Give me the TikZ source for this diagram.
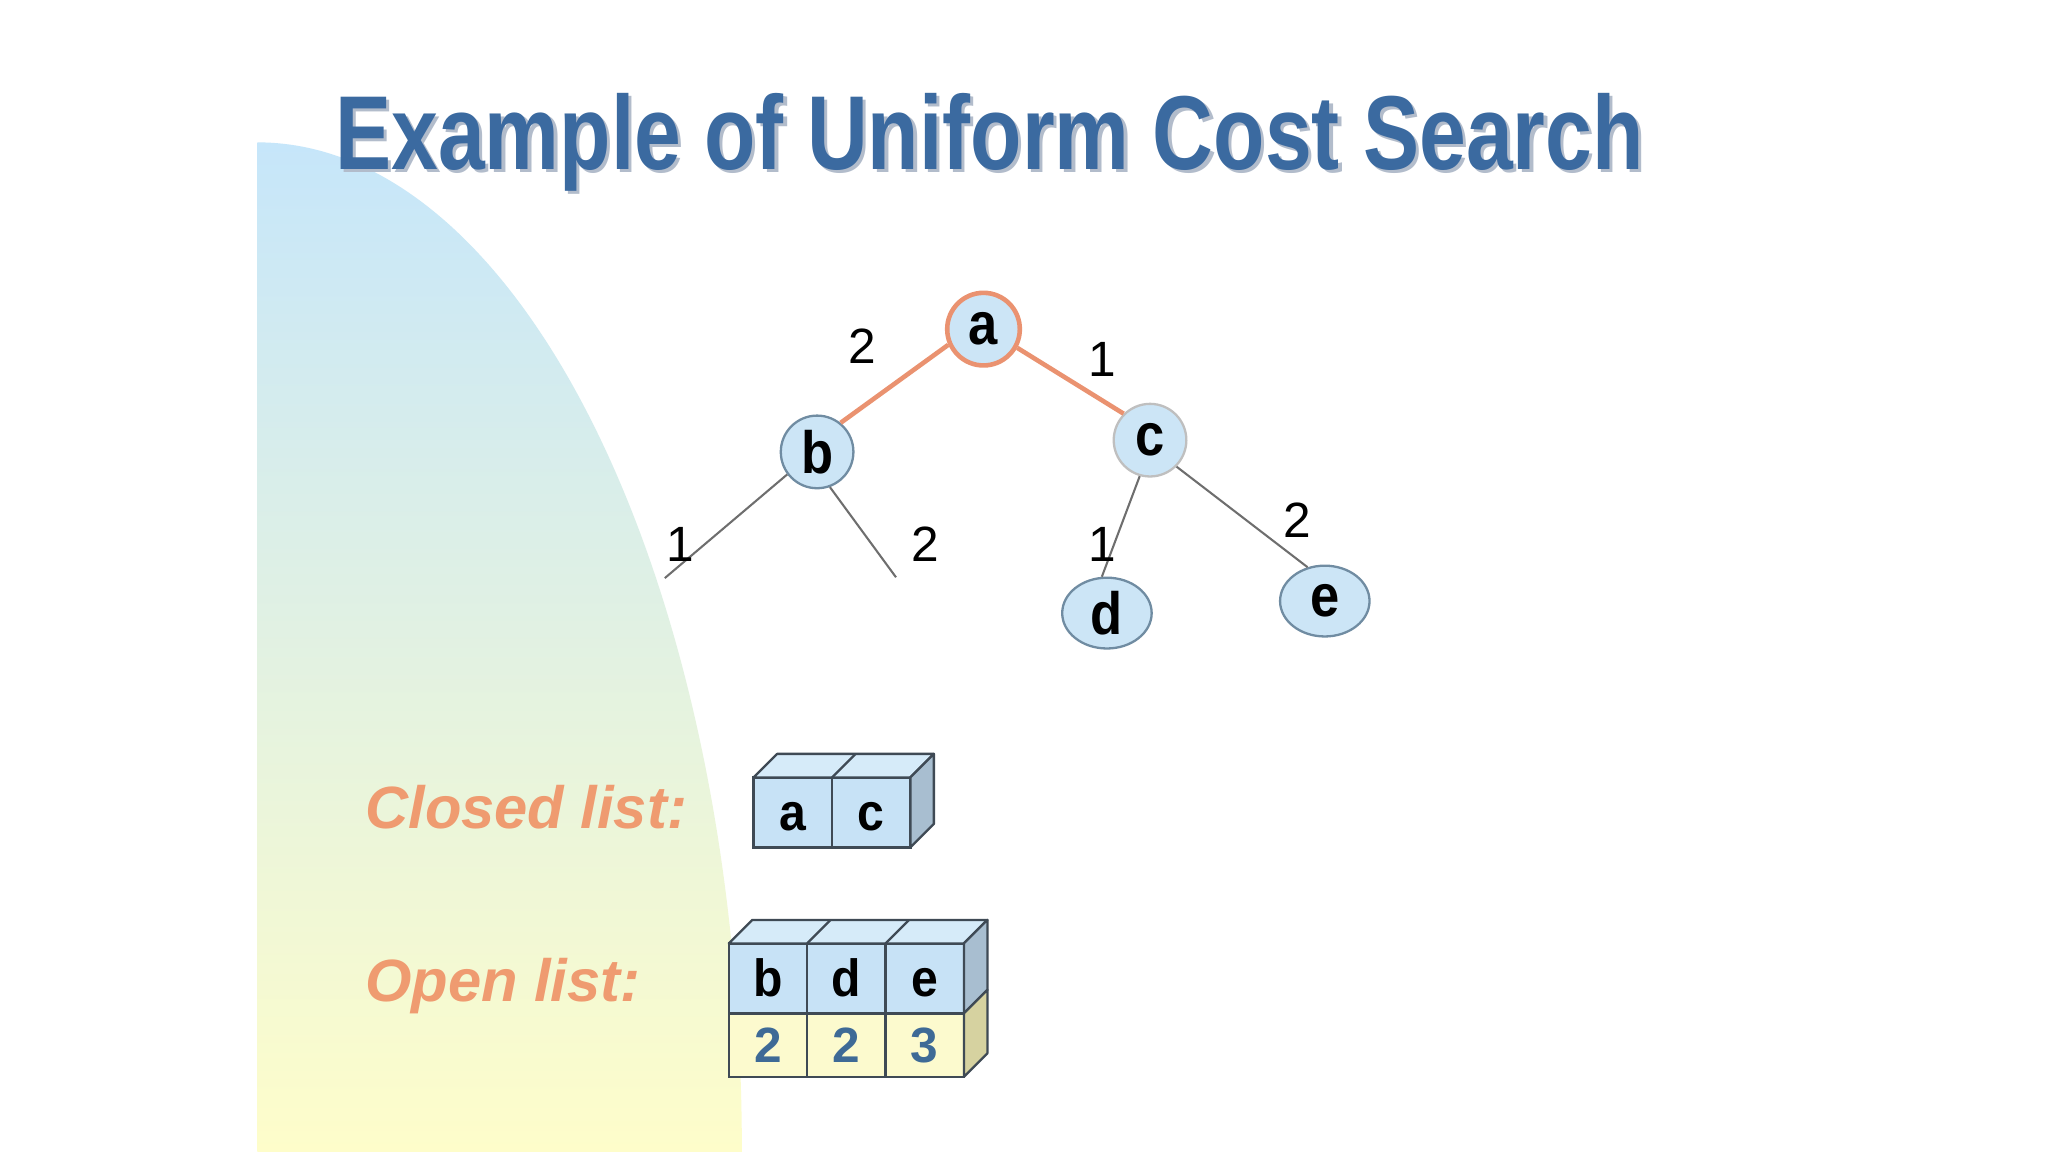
\documentclass[tikz,border=0pt]{standalone}
\usepackage{fontspec}
\setmainfont{Liberation Sans}
\newfontfamily\narrowfont{Liberation Sans}[FakeStretch=0.8]
\newfontfamily\vertexfont{Liberation Sans}[FakeStretch=0.88]
\newfontfamily\cellfont{Liberation Sans}[FakeStretch=0.92]
\usepackage{xcolor}
\usetikzlibrary{positioning,shapes.geometric}

\definecolor{titleblue}{RGB}{59,106,160}
\definecolor{shadowgray}{RGB}{178,188,203}
\definecolor{listorange}{RGB}{239,155,112}
\definecolor{vertexfill}{RGB}{204,229,246}
\definecolor{vertexline}{RGB}{112,140,162}
\definecolor{rootline}{RGB}{234,146,112}
\definecolor{edgegray}{RGB}{110,110,110}
\definecolor{cellblue}{RGB}{199,226,246}
\definecolor{topblue}{RGB}{214,235,249}
\definecolor{sideblue}{RGB}{168,190,208}
\definecolor{cellyellow}{RGB}{252,250,206}
\definecolor{sideyellow}{RGB}{214,210,160}
\definecolor{cellline}{RGB}{63,74,85}
\definecolor{costblue}{RGB}{62,106,150}
\definecolor{bgblue}{RGB}{198,230,250}
\definecolor{bgmid}{RGB}{221,239,236}
\definecolor{bgyellow}{RGB}{254,253,202}

\begin{document}
\begin{tikzpicture}[
  x=0.1mm, y=0.1mm,
  vertex/.style={draw=vertexline, fill=vertexfill, line width=0.5pt, circle, minimum size=5.56mm, inner sep=0pt, font=\vertexfont\bfseries\fontsize{13}{15}\selectfont},
  leaf/.style={vertex, ellipse, minimum width=6.85mm, minimum height=5.42mm},
  visited/.style={draw=rootline, line width=1pt},
  branch/.style={draw=edgegray, line width=0.45pt},
  weight/.style={inner sep=0pt, font=\fontsize{10.8}{12}\selectfont},
  listlabel/.style={anchor=base west, inner sep=0pt, text=listorange, font=\bfseries\itshape\fontsize{13}{15}\selectfont},
  cell/.style={draw=cellline, fill=cellblue, line width=0.5pt, outer sep=0pt, inner sep=0pt, minimum width=6mm, minimum height=5.36mm, text height=2.8mm, text depth=0mm, font=\cellfont\bfseries\fontsize{11.4}{13}\selectfont},
  cost/.style={cell, fill=cellyellow, minimum height=4.85mm, text height=, text depth=, text=costblue, font=\bfseries\fontsize{10.8}{12}\selectfont},
  topface/.style={draw=cellline, fill=topblue, line width=0.5pt, line join=round},
  sideface/.style={draw=cellline, fill=sideblue, line width=0.5pt, line join=round}
]
\useasboundingbox (0,0) rectangle (1568,882);
\fill[white] (0,0) rectangle (1568,882);
\shade[top color=bgblue, middle color=bgmid, bottom color=bgyellow] (197,0) -- (197,773) arc[start angle=90, end angle=0, x radius=371, y radius=773] -- cycle;

\node[anchor=base west, inner sep=0pt, text=shadowgray, font=\narrowfont\bfseries\fontsize{22.9}{26}\selectfont] (titleshadow) at (258.5,749.8) {Example of Uniform Cost Search};
\node[anchor=base west, inner sep=0pt, text=titleblue, font=\narrowfont\bfseries\fontsize{22.9}{26}\selectfont] (title) at (256,752.3) {Example of Uniform Cost Search};

\node[vertex, draw=rootline, line width=1pt] (a) at (753,630) {a};
\node[vertex] (b) at (625.6,536) {b};
\node[vertex, draw=black!25] (c) at (880.5,545) {c};
\node[leaf] (d) at (847.5,412.6) {d};
\node[leaf] (e) at (1014.3,421.8) {e};
\coordinate (bleft) at (509,439.4);
\coordinate (bright) at (686,440);

\draw[visited] (a.204) -- (b.51);
\draw[visited] (a.331) -- (c.135);
\draw[branch] (b.217) -- (bleft);
\draw[branch] (b.290) -- (bright);
\draw[branch] (c.254) -- (d.98);
\draw[branch] (c.315) -- (e.117);

\node[weight] (wab) at (660,617) {2};
\node[weight] (wac) at (844,607) {1};
\node[weight] (wbl) at (520.6,465) {1};
\node[weight] (wbr) at (708.4,465.2) {2};
\node[weight] (wcd) at (844,465) {1};
\node[weight] (wce) at (993,484) {2};

\node[listlabel] (closedlabel) at (279,247.5) {Closed list:};
\node[listlabel] (openlabel) at (279,115) {Open list:};

\node[cell] (closedA) at (607,260) {a};
\node[cell, right=0pt of closedA] (closedC) {c};
\draw[topface] (closedA.north west) -- ++(18,18) -- ([shift={(18,18)}]closedC.north east) -- (closedC.north east) -- cycle;
\draw[cellline, line width=0.5pt] (closedA.north east) -- ++(18,18);
\draw[sideface] (closedC.north east) -- ++(18,18) -- ++(0,-53.6) -- (closedC.south east) -- cycle;

\node[cell] (openB) at (588,132.9) {b};
\node[cell, right=0pt of openB] (openD) {d};
\node[cell, right=0pt of openD] (openE) {e};
\node[cost, below=0pt of openB] (costB) {2};
\node[cost, below=0pt of openD] (costD) {2};
\node[cost, below=0pt of openE] (costE) {3};
\draw[topface] (openB.north west) -- ++(18,18) -- ([shift={(18,18)}]openE.north east) -- (openE.north east) -- cycle;
\foreach \c in {openB,openD}
  \draw[cellline, line width=0.5pt] (\c.north east) -- ++(18,18);
\draw[sideface] (openE.north east) -- ++(18,18) -- ++(0,-53.6) -- (openE.south east) -- cycle;
\draw[sideface, fill=sideyellow] (costE.north east) -- ++(18,18) -- ++(0,-48.5) -- (costE.south east) -- cycle;
\end{tikzpicture}
\end{document}
